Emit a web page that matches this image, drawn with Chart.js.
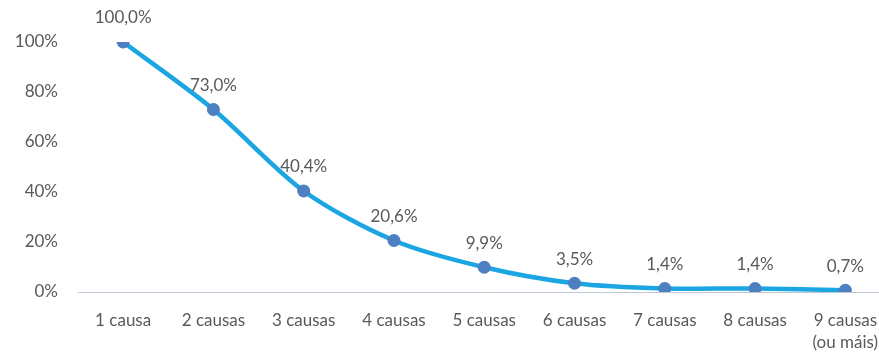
<!DOCTYPE html>
<html>
<head>
<meta charset="utf-8">
<script src="https://cdn.jsdelivr.net/npm/chart.js@4"></script>
<style>
html,body{margin:0;padding:0;background:#fff;overflow:hidden;}
#wrap{width:897px;height:355px;position:relative;}
</style>
</head>
<body>
<div id="wrap"><canvas id="c" width="897" height="355"></canvas></div>
<script>
const categories = ['1 causa','2 causas','3 causas','4 causas','5 causas','6 causas','7 causas','8 causas',['9 causas','(ou máis)']];
const values = [100.0, 73.0, 40.4, 20.6, 9.9, 3.5, 1.4, 1.4, 0.7];
const yTicks = [0, 20, 40, 60, 80, 100];

const FONT = 'Lato, "Open Sans", sans-serif';
const TEXT = '#595959';
const FS = 17;

const dataLabels = {
  id: 'dataLabels',
  afterDatasetsDraw(chart) {
    const ctx = chart.ctx;
    const meta = chart.getDatasetMeta(0);
    ctx.save();
    ctx.font = FS + 'px ' + FONT;
    ctx.fillStyle = TEXT;
    ctx.textAlign = 'center';
    ctx.textBaseline = 'middle';
    meta.data.forEach((pt, i) => {
      const txt = values[i].toFixed(1).replace('.', ',') + '%';
      ctx.fillText(txt, pt.x, pt.y - 24);
    });
    ctx.restore();
  }
};

new Chart(document.getElementById('c'), {
  type: 'line',
  data: {
    labels: categories,
    datasets: [{
      data: values,
      borderColor: '#1BA5E3',
      borderWidth: 4.5,
      tension: 0.3,
      pointRadius: 6.5,
      pointHoverRadius: 6.5,
      pointBackgroundColor: '#4E7FC0',
      pointBorderColor: '#4E7FC0',
      pointBorderWidth: 0,
      fill: false
    }]
  },
  options: {
    responsive: false,
    animation: false,
    events: [],
    layout: { padding: { top: 42, right: 0, left: 0, bottom: 0 } },
    plugins: { legend: { display: false }, tooltip: { enabled: false } },
    scales: {
      x: {
        type: 'category',
        offset: true,
        grid: { display: false, drawTicks: false },
        border: { display: true, color: '#BFC7D5', width: 1 },
        ticks: { color: TEXT, font: { size: FS, family: FONT, lineHeight: 1.3 }, padding: 17, maxRotation: 0, autoSkip: false },
        afterFit(scale) { scale.height = 63; }
      },
      y: {
        min: 0, max: 100,
        afterBuildTicks(scale) { scale.ticks = yTicks.map(v => ({ value: v })); },
        grid: { display: false, drawTicks: false },
        border: { display: false },
        ticks: { color: TEXT, font: { size: FS, family: FONT }, padding: 20, callback: v => v + '%' },
        afterFit(scale) { scale.width = 78; }
      }
    }
  },
  plugins: [dataLabels]
});
</script>
</body>
</html>
